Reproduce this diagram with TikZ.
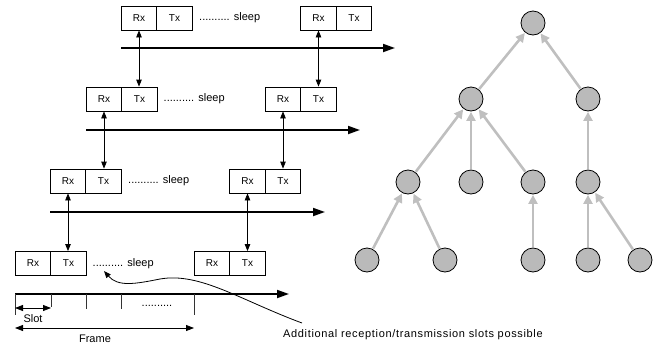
\documentclass[tikz,border=0pt]{standalone}
\usepackage{fontspec}
\setmainfont{Liberation Sans}
\usetikzlibrary{arrows.meta}
\tikzset{
  slotbox/.style={draw, line width=0.8pt, minimum width=35.5pt, minimum height=24pt, inner sep=0pt, font=\fontsize{10}{12}\selectfont},
  lbl/.style={inner sep=0pt, font=\fontsize{11}{13}\selectfont},
  axis/.style={line width=1.8pt, -{Triangle[length=12pt,width=8pt]}},
  link/.style={line width=0.8pt, {Triangle[length=7pt,width=5.5pt]}-{Triangle[length=7pt,width=5.5pt]}},
  tick/.style={line width=0.8pt, draw=black!80},
  dim/.style={line width=0.8pt, {Triangle[length=8pt,width=6pt]}-{Triangle[length=8pt,width=6pt]}},
  tnode/.style={circle, draw, line width=0.8pt, fill=black!27, minimum size=24pt, inner sep=0pt},
  tedge/.style={draw=black!25, line width=2.6pt, -{Triangle[length=9pt,width=9pt]}, shorten >=0.5pt, shorten <=0.5pt},
}
\begin{document}
\begin{tikzpicture}[x=1pt,y=-1pt]
\useasboundingbox (0,0) rectangle (659,346);
% level 1
\node[slotbox] (rxa) at (139,18) {Rx};
\node[slotbox] (txa) at (174.5,18) {Tx};
\node[lbl, anchor=west] (sla) at (199,18) {.......... sleep};
\node[slotbox] (rxa2) at (318.5,18) {Rx};
\node[slotbox] (txa2) at (354,18) {Tx};
\coordinate (a1) at (121,48); \coordinate (a2) at (395,48);
\draw[axis] (a1) -- (a2);
% level 2
\node[slotbox] (rxb) at (104,99) {Rx};
\node[slotbox] (txb) at (139.5,99) {Tx};
\node[lbl, anchor=west] (slb) at (163.5,99) {.......... sleep};
\node[slotbox] (rxb2) at (283,99) {Rx};
\node[slotbox] (txb2) at (318.5,99) {Tx};
\coordinate (b1) at (86,130); \coordinate (b2) at (360,130);
\draw[axis] (b1) -- (b2);
% level 3
\node[slotbox] (rxc) at (68,181) {Rx};
\node[slotbox] (txc) at (103.5,181) {Tx};
\node[lbl, anchor=west] (slc) at (128,181) {.......... sleep};
\node[slotbox] (rxc2) at (247.5,181) {Rx};
\node[slotbox] (txc2) at (283,181) {Tx};
\coordinate (c1) at (50,212); \coordinate (c2) at (325,212);
\draw[axis] (c1) -- (c2);
% level 4
\node[slotbox] (rxd) at (33,263.5) {Rx};
\node[slotbox] (txd) at (68.5,263.5) {Tx};
\node[lbl, anchor=west] (sld) at (92.5,263.5) {.......... sleep};
\node[slotbox] (rxd2) at (212,263.5) {Rx};
\node[slotbox] (txd2) at (247.5,263.5) {Tx};
\coordinate (d1) at (15,294); \coordinate (d2) at (289,294);
\draw[axis] (d1) -- (d2);
% links
\draw[link] (rxa.south) -- (rxa.south |- txb.north);
\draw[link] (rxa2.south) -- (rxa2.south |- txb2.north);
\draw[link] (rxb.south) -- (rxb.south |- txc.north);
\draw[link] (rxb2.south) -- (rxb2.south |- txc2.north);
\draw[link] (rxc.south) -- (rxc.south |- txd.north);
\draw[link] (rxc2.south) -- (rxc2.south |- txd2.north);
% ticks
\coordinate (t0) at (15,294); \coordinate (t0e) at (15,315);
\coordinate (t1) at (51,294); \coordinate (t1e) at (51,307);
\coordinate (t2) at (86,294); \coordinate (t2e) at (86,309);
\coordinate (t3) at (121,294); \coordinate (t3e) at (121,309);
\coordinate (t4) at (194,294); \coordinate (t4e) at (194,315);
\foreach \i in {0,...,4} \draw[tick] (t\i) -- (t\i e);
\node[lbl] (dots) at (157,306) {..........};
\coordinate (s1) at (15,308); \coordinate (s2) at (51,308);
\draw[dim] (s1) -- (s2);
\node[lbl] (slot) at (33,319) {Slot};
\coordinate (f1) at (15,328); \coordinate (f2) at (194,328);
\draw[dim] (f1) -- (f2);
\node[lbl] (frame) at (95,339) {Frame};
% note
\node[lbl, anchor=west, font=\fontsize{11}{13}\selectfont\addfontfeature{LetterSpace=6}] (note) at (283,335) {Additional reception/transmission slots possible};
\coordinate (ctip) at (104,271);
\draw[line width=0.8pt, -{Triangle[length=7pt,width=5.5pt]}] (302,323) .. controls (240,300) and (200,272) .. (160,279) .. controls (135,284) and (118,287) .. (ctip);
% tree
\node[tnode] (r) at (533,23) {};
\node[tnode] (a) at (471,99) {};
\node[tnode] (b) at (588,99) {};
\node[tnode] (c) at (408,182) {};
\node[tnode] (d) at (471,182) {};
\node[tnode] (e) at (533,182) {};
\node[tnode] (f) at (588,182) {};
\node[tnode] (g) at (367,260) {};
\node[tnode] (h) at (445,260) {};
\node[tnode] (i) at (533,260) {};
\node[tnode] (j) at (588,260) {};
\node[tnode] (k) at (640,260) {};
\draw[tedge] (a) -- (r);
\draw[tedge] (b) -- (r);
\draw[tedge] (c) -- (a);
\draw[tedge] (d) -- (a);
\draw[tedge] (e) -- (a);
\draw[tedge] (f) -- (b);
\draw[tedge] (g) -- (c);
\draw[tedge] (h) -- (c);
\draw[tedge] (i) -- (e);
\draw[tedge] (j) -- (f);
\draw[tedge] (k) -- (f);
\end{tikzpicture}
\end{document}
